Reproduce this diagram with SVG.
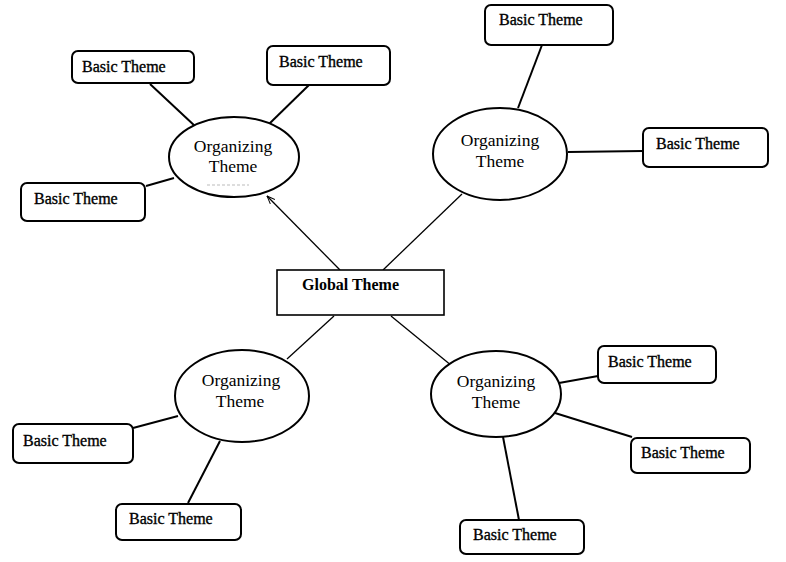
<svg xmlns="http://www.w3.org/2000/svg" width="786" height="562" viewBox="0 0 786 562">
<style>
.bg{fill:#fff}
.box{fill:#fff;stroke:#000;stroke-width:2}
.ell{fill:#fff;stroke:#000;stroke-width:2}
.glob{fill:#fff;stroke:#000;stroke-width:1.6}
.bt{font-family:"Liberation Serif","Times New Roman",serif;font-size:16px;fill:#000;stroke:#000;stroke-width:0.35}
.ot{font-family:"Liberation Serif","Times New Roman",serif;font-size:17.5px;fill:#000;text-anchor:middle}
.gt{font-family:"Liberation Serif","Times New Roman",serif;font-size:16px;font-weight:bold;fill:#000}
.thin{stroke:#000;stroke-width:1.3;fill:none}
.thick{stroke:#000;stroke-width:2;fill:none}
</style>
<defs>
<marker id="arr" viewBox="0 0 10 10" refX="10" refY="5" markerWidth="8" markerHeight="8" orient="auto" markerUnits="userSpaceOnUse">
<path d="M0,1 L10,5 L0,9" fill="none" stroke="#000" stroke-width="1.2"/>
</marker>
</defs>
<rect class="bg" x="0" y="0" width="786" height="562"/>
<g id="connectors">
<line class="thin" x1="340" y1="270" x2="267" y2="196" marker-end="url(#arr)"/>
<line class="thin" x1="383" y1="270" x2="462" y2="194"/>
<line class="thin" x1="334" y1="316" x2="287" y2="359"/>
<line class="thin" x1="391" y1="316" x2="452" y2="366"/>
<line class="thick" x1="150" y1="84" x2="196" y2="127"/>
<line class="thick" x1="309" y1="85" x2="268" y2="125"/>
<line class="thick" x1="146" y1="186" x2="174" y2="178"/>
<line class="thick" x1="542" y1="45" x2="518" y2="108"/>
<line class="thick" x1="568" y1="152" x2="643" y2="151"/>
<line class="thick" x1="133" y1="428" x2="178" y2="416"/>
<line class="thick" x1="188" y1="503" x2="220" y2="441"/>
<line class="thick" x1="559" y1="383" x2="598" y2="376"/>
<line class="thick" x1="555" y1="413" x2="632" y2="437"/>
<line class="thick" x1="503" y1="437" x2="519" y2="520"/>
</g>
<g id="global">
<rect class="glob" x="277" y="270" width="167" height="45"/>
<text class="gt" x="302" y="290">Global Theme</text>
</g>
<g id="org-tl">
<ellipse class="ell" cx="234" cy="157" rx="65" ry="40"/>
<text class="ot" x="233" y="152">Organizing</text>
<text class="ot" x="233" y="172">Theme</text>
<line x1="207" y1="185" x2="249" y2="185" stroke="#bbb" stroke-width="1" stroke-dasharray="3,2"/>
</g>
<g id="org-tr">
<ellipse class="ell" cx="500" cy="154" rx="67" ry="46"/>
<text class="ot" x="500" y="146">Organizing</text>
<text class="ot" x="500" y="167">Theme</text>
</g>
<g id="org-bl">
<ellipse class="ell" cx="242" cy="396" rx="67" ry="46"/>
<text class="ot" x="241" y="386">Organizing</text>
<text class="ot" x="240" y="407">Theme</text>
</g>
<g id="org-br">
<ellipse class="ell" cx="496" cy="394" rx="65" ry="43"/>
<text class="ot" x="496" y="387">Organizing</text>
<text class="ot" x="496" y="408">Theme</text>
</g>
<g id="basic-1"><rect class="box" x="72" y="51" width="122" height="32" rx="6"/><text class="bt" x="82" y="72">Basic Theme</text></g>
<g id="basic-2"><rect class="box" x="267" y="46" width="123" height="39" rx="6"/><text class="bt" x="279" y="67">Basic Theme</text></g>
<g id="basic-3"><rect class="box" x="21" y="183" width="124" height="38" rx="6"/><text class="bt" x="34" y="204">Basic Theme</text></g>
<g id="basic-4"><rect class="box" x="485" y="5" width="128" height="40" rx="6"/><text class="bt" x="499" y="25">Basic Theme</text></g>
<g id="basic-5"><rect class="box" x="643" y="128" width="125" height="39" rx="6"/><text class="bt" x="656" y="149">Basic Theme</text></g>
<g id="basic-6"><rect class="box" x="13" y="424" width="120" height="39" rx="6"/><text class="bt" x="23" y="446">Basic Theme</text></g>
<g id="basic-7"><rect class="box" x="116" y="504" width="125" height="36" rx="6"/><text class="bt" x="129" y="524">Basic Theme</text></g>
<g id="basic-8"><rect class="box" x="598" y="346" width="118" height="37" rx="6"/><text class="bt" x="608" y="367">Basic Theme</text></g>
<g id="basic-9"><rect class="box" x="631" y="438" width="119" height="35" rx="6"/><text class="bt" x="641" y="458">Basic Theme</text></g>
<g id="basic-10"><rect class="box" x="460" y="520" width="124" height="34" rx="6"/><text class="bt" x="473" y="540">Basic Theme</text></g>
</svg>
